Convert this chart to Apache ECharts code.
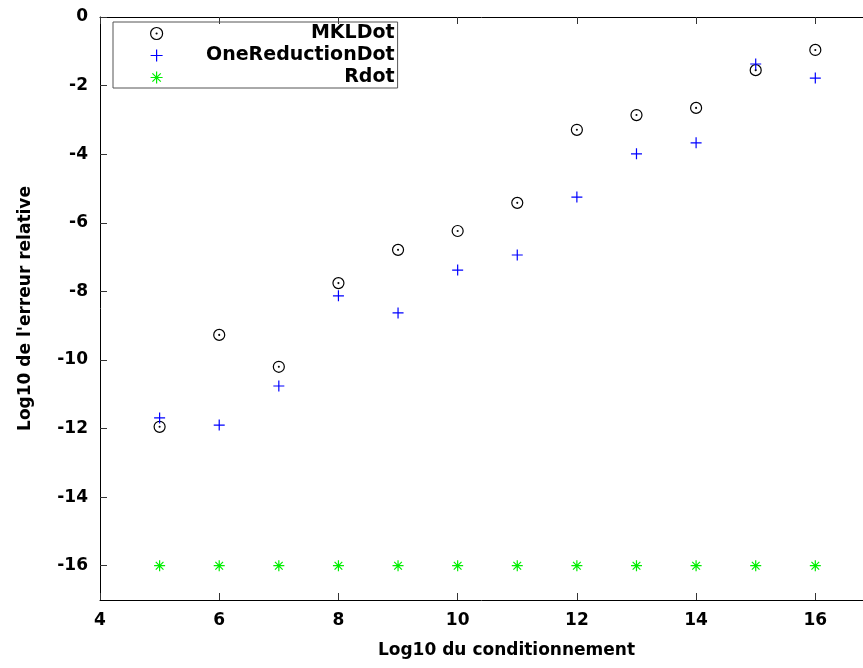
<!DOCTYPE html>
<html>
<head>
<meta charset="utf-8">
<script src="https://cdn.jsdelivr.net/npm/echarts@6/dist/echarts.min.js"></script>
<style>
    html, body { margin: 0; padding: 0; background: #fff; }
    #chart { width: 863px; height: 668px; }
</style>
</head>
<body>
<div id="chart"></div>
<script>
    // values
    let conditioning = [5, 6, 7, 8, 9, 10, 11, 12, 13, 14, 15, 16];
    let mklDot = [-11.95, -9.27, -10.2, -7.76, -6.79, -6.24, -5.42, -3.29, -2.86, -2.65, -1.55, -0.96];
    let oneReductionDot = [-11.69, -11.9, -10.76, -8.13, -8.63, -7.38, -6.94, -5.25, -3.99, -3.67, -1.37, -1.78];
    let rdot = [-16, -16, -16, -16, -16, -16, -16, -16, -16, -16, -16, -16];
    let xTicks = [4, 6, 8, 10, 12, 14, 16];
    let yTicks = [-16, -14, -12, -10, -8, -6, -4, -2, 0];

    let font = 'DejaVu Sans';

    let circleDot = 'path://M50,0 A50,50 0 1,1 50,100 A50,50 0 1,1 50,0 Z M50,46 A4,4 0 1,1 50,54 A4,4 0 1,1 50,46 Z';
    let plus = 'path://M50,0 L50,100 M0,50 L100,50';
    let star = 'path://M50,0 L50,100 M0,50 L100,50 M15,15 L85,85 M85,15 L15,85';

    function pairs(ys) {
        return conditioning.map(function (x, i) { return [x, ys[i]]; });
    }

    function scatter(name, ys, symbol, color) {
        return {
            name: name,
            type: 'scatter',
            data: pairs(ys),
            symbol: symbol,
            symbolSize: 11,
            itemStyle: {
                color: 'transparent',
                borderColor: color,
                borderWidth: 1.2,
                opacity: 1
            },
            emphasis: { disabled: true }
        };
    }

    let chart = echarts.init(document.getElementById('chart'));

    chart.setOption({
        animation: false,
        grid: { left: 100, top: 17, right: 0, bottom: 68 },
        legend: {
            orient: 'vertical',
            left: 113,
            top: 22,
            padding: [2, 3, 1, 37],
            itemGap: 3,
            itemWidth: 12,
            itemHeight: 12,
            borderColor: '#555',
            borderWidth: 1,
            itemStyle: { borderWidth: 1.2 },
            selectedMode: false,
            formatter: function (name) { return '{a|' + name + '}'; },
            textStyle: {
                rich: {
                    a: {
                        width: 227,
                        align: 'right',
                        fontSize: 19,
                        fontWeight: 'bold',
                        fontFamily: font,
                        color: '#000'
                    }
                }
            },
            data: ['MKLDot', 'OneReductionDot', 'Rdot']
        },
        xAxis: [
            {
                type: 'value',
                position: 'bottom',
                min: 4,
                max: 16.8,
                name: 'Log10 du conditionnement',
                nameLocation: 'middle',
                nameGap: 42,
                nameTextStyle: { fontFamily: font, fontSize: 17, fontWeight: 'bold', color: '#000',
                    verticalAlign: 'top', padding: [0, 0, 0, 50] },
                axisLine: { onZero: false, lineStyle: { color: '#000', width: 1 } },
                axisTick: { inside: true, length: 7, customValues: xTicks, lineStyle: { color: '#333' } },
                axisLabel: { customValues: xTicks, margin: 12, fontFamily: font, fontSize: 17,
                    fontWeight: 'bold', color: '#000' },
                splitLine: { show: false }
            },
            {
                type: 'value',
                position: 'top',
                min: 4,
                max: 16.8,
                axisLine: { onZero: false, lineStyle: { color: '#000', width: 1 } },
                axisTick: { inside: true, length: 7, customValues: xTicks, lineStyle: { color: '#333' } },
                axisLabel: { show: false },
                splitLine: { show: false }
            }
        ],
        yAxis: {
            type: 'value',
            min: -17,
            max: 0,
            name: 'Log10 de l\'erreur relative',
            nameLocation: 'middle',
            nameGap: 66,
            nameTextStyle: { fontFamily: font, fontSize: 17, fontWeight: 'bold', color: '#000' },
            axisLine: { show: true, onZero: false, lineStyle: { color: '#000', width: 1 } },
            axisTick: { show: true, inside: true, length: 7, customValues: yTicks, lineStyle: { color: '#333' } },
            axisLabel: { customValues: yTicks, margin: 12, fontFamily: font, fontSize: 17,
                fontWeight: 'bold', color: '#000' },
            splitLine: { show: false }
        },
        series: [
            scatter('MKLDot', mklDot, circleDot, '#000'),
            scatter('OneReductionDot', oneReductionDot, plus, '#0000ff'),
            scatter('Rdot', rdot, star, '#00ee00')
        ]
    });
</script>
</body>
</html>
